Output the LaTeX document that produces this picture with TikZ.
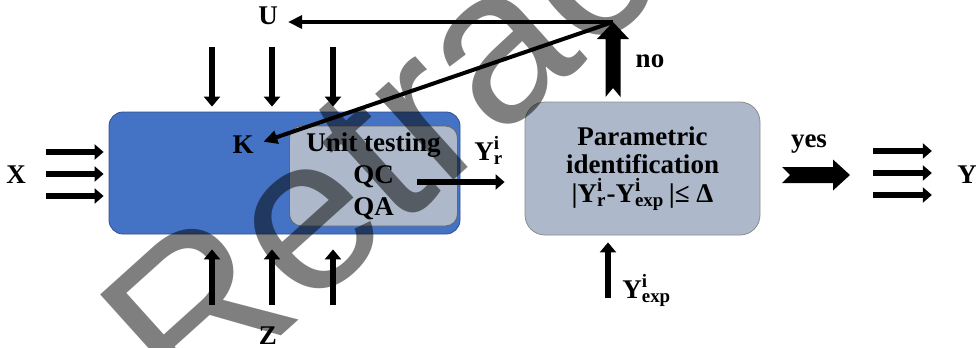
\documentclass[tikz,border=0pt]{standalone}
\usepackage{fontspec}
\setmainfont{Liberation Serif}
\newfontfamily\wmfont{Liberation Sans}
\usepackage{tikz}
\usetikzlibrary{arrows.meta, positioning}
\definecolor{modelblue}{HTML}{4472C4}
\definecolor{modelrim}{HTML}{2F528F}
\definecolor{boxgrey}{HTML}{ADB9CA}
\tikzstyle{bnode} = [draw, align=center, inner sep=0pt]
\tikzstyle{lbl} = [inner sep=0pt]
\tikzstyle{arr} = [draw, line width=2.6pt, -{Triangle[width=8pt,length=5pt]}]
\tikzstyle{fatarr} = [draw, line width=3.2pt, -{Triangle[width=7.5pt,length=4.5pt]}]
\tikzstyle{thinarr} = [draw, line width=2pt, -{Triangle[width=6.5pt,length=7pt]}]
\newcommand{\yidx}[1]{Y\rlap{\textsuperscript{i}}\textsubscript{#1}}

\begin{document}
\begin{tikzpicture}[x=0.5pt, y=-0.5pt, font=\bfseries\fontsize{13.5}{16}\selectfont]
			\useasboundingbox (0,0) rectangle (976,348);
			\node [bnode, fill=modelblue, draw=modelrim, minimum width=175.5pt, minimum height=61pt, rounded corners=7pt] (model) at (284.5,173) {};
			\node [bnode, fill=boxgrey, draw=black!60, minimum width=84pt, minimum height=50pt, rounded corners=6pt] (test) at (373.5,176) {Unit testing\\QC\\QA};
			\node [bnode, fill=boxgrey, draw=black!45, minimum width=117.5pt, minimum height=66.5pt, rounded corners=10pt, font=\bfseries\fontsize{13.5}{14.25}\selectfont] (param) at (642.5,168.5) {Parametric\\identification\\|\yidx{r}-\yidx{exp}\,|≤~Δ};

			\node [lbl] (X) at (16,175) {X};
			\node [lbl] (Y) at (967,175) {Y};
			\node [lbl] (U) at (268,16) {U};
			\node [lbl] (Z) at (268,336) {Z};
			\node [lbl] (K) at (243,145) {K};
			\node [lbl, anchor=base] (no) at (650,68) {no};
			\node [lbl, anchor=base] (yes) at (809,148) {yes};
			\node [lbl, anchor=base west] (yr) at (474,160) {\yidx{r}};
			\node [lbl, anchor=base west] (yexp) at (622,298) {\yidx{exp}};

			\coordinate (apex) at (613,22);
			\coordinate (qcout) at (417,182);
			\coordinate (expin) at (608,298);
			\coordinate (yestail) at (782,175);

			% no / yes
			\fill (apex) -- ++(16,17) -- ++(-8.5,0) -- ++(0,58) -- ++(-7.5,-9) -- ++(-7.5,9) -- ++(0,-58) -- ++(-8.5,0) -- cycle;
			\fill (yestail) ++(8,0) -- ++(-8,-8) -- ++(51,0) -- ++(0,-7.5) -- ++(17,15.5) -- ++(-17,15.5) -- ++(0,-7.5) -- ++(-51,0) -- cycle;

			\path [thinarr, shorten >=5pt] (apex) -- (apex -| U.east);
			\path [thinarr, shorten >=5pt] (apex) -- (K.east);

			\foreach \x [count=\i] in {212,272,333} {
				\coordinate (kin\i) at (\x,47);
				\coordinate (zin\i) at (\x,305);
				\path [arr, shorten >=2.5pt] (kin\i) -- (kin\i |- model.north);
				\path [arr, shorten >=7.5pt] (zin\i) -- (zin\i |- model.south);
			}
			\foreach \y [count=\i] in {152,174,196} {
				\coordinate (xin\i) at (46,\y);
				\path [fatarr, shorten >=2.5pt] (xin\i) -- (xin\i -| model.west);
			}
			\foreach \y [count=\i] in {151,173,195} {
				\coordinate (yout\i) at (873,\y);
				\path [fatarr, shorten >=12.5pt] (yout\i) -- (yout\i -| Y.west);
			}
			\path [fatarr, shorten >=10pt] (qcout) -- (qcout -| param.west);
			\path [arr, shorten >=3.5pt] (expin) -- (expin |- param.south);

			\begin{scope}
				\clip (0,0) rectangle (976,348);
				\node [rotate=42, anchor=base west, inner sep=0pt, text opacity=0.5, font=\wmfont\fontsize{110}{112}\selectfont] (wm) at (188,420) {Retracted};
			\end{scope}
		\end{tikzpicture}
\end{document}
